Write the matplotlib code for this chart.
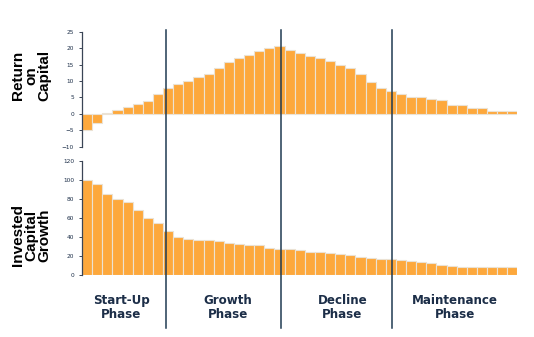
import matplotlib
matplotlib.use("Agg")
import matplotlib.pyplot as plt
import matplotlib.transforms as mtransforms
from matplotlib.lines import Line2D
import numpy as np

# return on capital per period (top panel)
roc = [-5, -2.8, 0.4, 1.1, 2, 2.9, 4, 5.9, 8, 9,
       10, 11.1, 12, 13.8, 15.9, 16.9, 18, 19, 19.9, 20.5,
       19.5, 18.6, 17.7, 16.9, 16, 15, 13.8, 12, 9.8, 8,
       7.1, 5.9, 5, 5, 4.4, 4.1, 2.8, 2.8, 1.9, 1.9,
       1, 1, 1]
# invested capital growth per period (bottom panel)
icg = [100, 95, 85, 80, 76, 68, 60, 54, 46, 40,
       38, 37, 36, 35, 33, 32, 31, 31, 28, 27,
       26.7, 25.6, 24, 24, 23, 22, 21, 19, 18, 17,
       16, 15, 14, 13, 12, 10.5, 9.5, 8.4, 8.4, 8.4,
       8.4, 8.4, 8.4]

phase_bounds = [7.8, 19.1, 30.1]
phase_names = ["Start-Up\nPhase", "Growth\nPhase", "Decline\nPhase", "Maintenance\nPhase"]
phase_centers = [3.4, 13.9, 25.2, 36.3]

BAR = "#fda83c"
EDGE = "#ebe2d4"
NAVY = "#1c2e48"

fig = plt.figure(figsize=(5.34, 3.37), dpi=100)
ax1 = fig.add_axes([0.1536, 0.5647, 0.8155, 0.3413])
ax2 = fig.add_axes([0.1536, 0.1849, 0.8155, 0.3383])

x = np.arange(len(roc))
ax1.bar(x, roc, width=1.0, color=BAR, edgecolor=EDGE, linewidth=0.8)
ax2.bar(x, icg, width=1.0, color=BAR, edgecolor=EDGE, linewidth=0.8)

ax1.set_ylim(-10, 25)
ax1.set_yticks(range(-10, 26, 5))
ax2.set_ylim(0, 120)
ax2.set_yticks(range(0, 121, 20))

for ax in (ax1, ax2):
    ax.set_xlim(-0.5, len(roc) - 0.5)
    ax.set_xticks([])
    for s in ("top", "right", "bottom"):
        ax.spines[s].set_visible(False)
    ax.spines["left"].set_color("#3a4556")
    ax.spines["left"].set_linewidth(0.9)
    ax.tick_params(axis="y", labelsize=4.2, labelcolor=NAVY, color="#3a4556",
                   length=2.2, width=0.7, pad=3.5)
    ax.patch.set_alpha(0)

# phase boundary lines running through both panels
trans = mtransforms.blended_transform_factory(ax1.transData, fig.transFigure)
for b in phase_bounds:
    fig.add_artist(Line2D([b, b], [0.028, 0.912], transform=trans,
                          color="#1f3a52", linewidth=1.1))

for cx, name in zip(phase_centers, phase_names):
    fig.text(cx, 0.088, name, transform=trans, ha="center", va="center",
             fontsize=8.6, fontweight="bold", color=NAVY, linespacing=1.1,
             family="DejaVu Sans")

fig.text(0.058, 0.775, "Return\non\nCapital", rotation=90, ha="center", va="center",
         fontsize=11, fontweight="bold", color="black", linespacing=0.95,
         family="Liberation Sans")
fig.text(0.058, 0.302, "Invested\nCapital\nGrowth", rotation=90, ha="center", va="center",
         fontsize=11, fontweight="bold", color="black", linespacing=0.95,
         family="Liberation Sans")

fig.savefig("out.png", dpi=100)
